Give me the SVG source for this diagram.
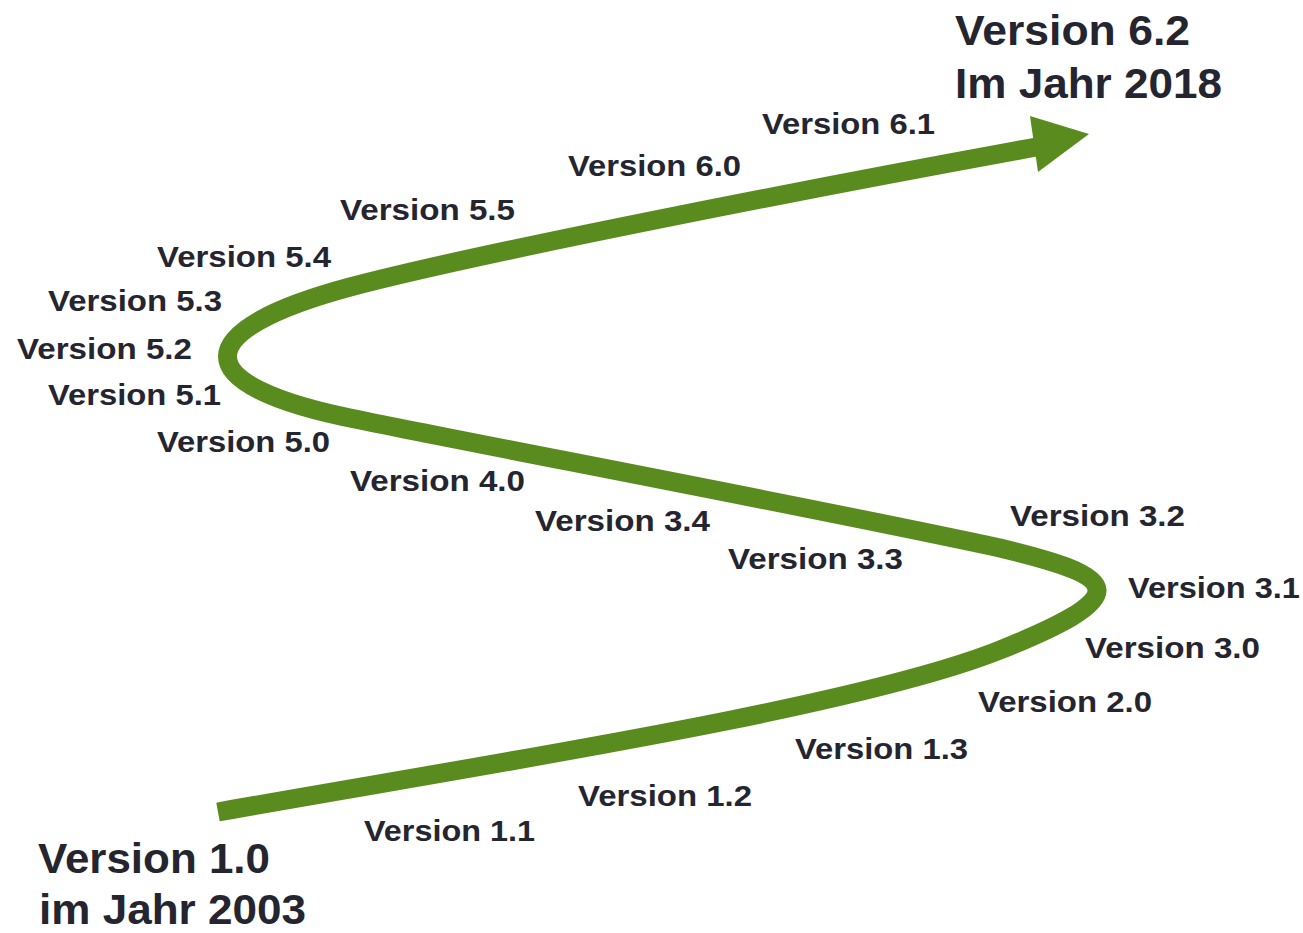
<svg xmlns="http://www.w3.org/2000/svg" width="1303" height="933" viewBox="0 0 1303 933">
<style>
.lbl{font-family:"Liberation Sans",Arial,sans-serif;font-weight:bold;font-size:29.5px;fill:#25252f}
.big{font-family:"Liberation Sans",Arial,sans-serif;font-weight:bold;font-size:42px;fill:#25252f}
.curve{fill:none;stroke:#5a8b1f;stroke-width:19;stroke-linecap:butt;stroke-linejoin:round}
.head{fill:#5a8b1f}
</style>
<rect width="1303" height="933" fill="#ffffff"/>
<g id="connectors">
<path class="curve" d="M218 812 C450 770 850 710 1000 650 C1060 626 1098 606 1097 590 C1096 573 1050 560 1000 548 C800 505 480 445 360 420 C180 385 190 330 350 287 C470 255 800 190 1042 146"/>
<polygon class="head" points="1030,116 1089,134 1038,172"/>
</g>
<g id="start"><text class="big" x="38" y="873" textLength="232" lengthAdjust="spacingAndGlyphs">Version 1.0</text><text class="big" x="39" y="924" textLength="267" lengthAdjust="spacingAndGlyphs">im Jahr 2003</text></g>
<g id="end"><text class="big" x="955" y="45" textLength="235" lengthAdjust="spacingAndGlyphs">Version 6.2</text><text class="big" x="955" y="98" textLength="267" lengthAdjust="spacingAndGlyphs">Im Jahr 2018</text></g>
<g id="v11"><text class="lbl" x="364" y="841" textLength="171" lengthAdjust="spacingAndGlyphs">Version 1.1</text></g>
<g id="v12"><text class="lbl" x="578" y="806" textLength="174" lengthAdjust="spacingAndGlyphs">Version 1.2</text></g>
<g id="v13"><text class="lbl" x="795" y="759" textLength="173" lengthAdjust="spacingAndGlyphs">Version 1.3</text></g>
<g id="v20"><text class="lbl" x="978" y="712" textLength="174" lengthAdjust="spacingAndGlyphs">Version 2.0</text></g>
<g id="v30"><text class="lbl" x="1085" y="658" textLength="175" lengthAdjust="spacingAndGlyphs">Version 3.0</text></g>
<g id="v31"><text class="lbl" x="1128" y="598" textLength="172" lengthAdjust="spacingAndGlyphs">Version 3.1</text></g>
<g id="v32"><text class="lbl" x="1010" y="526" textLength="175" lengthAdjust="spacingAndGlyphs">Version 3.2</text></g>
<g id="v33"><text class="lbl" x="728" y="569" textLength="175" lengthAdjust="spacingAndGlyphs">Version 3.3</text></g>
<g id="v34"><text class="lbl" x="535" y="531" textLength="175" lengthAdjust="spacingAndGlyphs">Version 3.4</text></g>
<g id="v40"><text class="lbl" x="350" y="491" textLength="175" lengthAdjust="spacingAndGlyphs">Version 4.0</text></g>
<g id="v50"><text class="lbl" x="157" y="452" textLength="173" lengthAdjust="spacingAndGlyphs">Version 5.0</text></g>
<g id="v51"><text class="lbl" x="48" y="405" textLength="173" lengthAdjust="spacingAndGlyphs">Version 5.1</text></g>
<g id="v52"><text class="lbl" x="17" y="359" textLength="175" lengthAdjust="spacingAndGlyphs">Version 5.2</text></g>
<g id="v53"><text class="lbl" x="48" y="311" textLength="174" lengthAdjust="spacingAndGlyphs">Version 5.3</text></g>
<g id="v54"><text class="lbl" x="157" y="267" textLength="174" lengthAdjust="spacingAndGlyphs">Version 5.4</text></g>
<g id="v55"><text class="lbl" x="340" y="220" textLength="175" lengthAdjust="spacingAndGlyphs">Version 5.5</text></g>
<g id="v60"><text class="lbl" x="568" y="176" textLength="173" lengthAdjust="spacingAndGlyphs">Version 6.0</text></g>
<g id="v61"><text class="lbl" x="762" y="134" textLength="173" lengthAdjust="spacingAndGlyphs">Version 6.1</text></g>
</svg>
